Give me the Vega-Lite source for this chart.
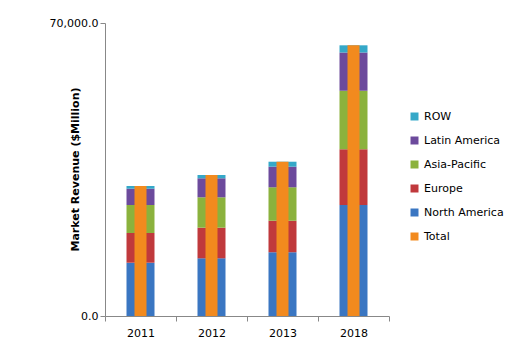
{
  "$schema": "https://vega.github.io/schema/vega-lite/v6.json",
  "width": 284,
  "height": 293,
  "padding": {"left": 105, "top": 23, "right": 134, "bottom": 41},
  "autosize": {"type": "none"},
  "background": "white",
  "config": {
    "view": {"stroke": null},
    "font": "DejaVu Sans",
    "axis": {"labelFont": "DejaVu Sans", "labelFontSize": 11, "labelColor": "#000", "domainColor": "#888", "tickColor": "#888", "grid": false},
    "legend": {"labelFont": "DejaVu Sans", "labelFontSize": 11, "labelColor": "#000"}
  },
  "data": {
    "values": [
      {"year": "2011", "region": "North America", "ord": 1, "value": 12730},
      {"year": "2011", "region": "Europe", "ord": 2, "value": 7100},
      {"year": "2011", "region": "Asia-Pacific", "ord": 3, "value": 6690},
      {"year": "2011", "region": "Latin America", "ord": 4, "value": 3890},
      {"year": "2011", "region": "ROW", "ord": 5, "value": 650},
      {"year": "2011", "region": "Total", "ord": 6, "value": 31060},
      {"year": "2012", "region": "North America", "ord": 1, "value": 13780},
      {"year": "2012", "region": "Europe", "ord": 2, "value": 7320},
      {"year": "2012", "region": "Asia-Pacific", "ord": 3, "value": 7260},
      {"year": "2012", "region": "Latin America", "ord": 4, "value": 4540},
      {"year": "2012", "region": "ROW", "ord": 5, "value": 780},
      {"year": "2012", "region": "Total", "ord": 6, "value": 33680},
      {"year": "2013", "region": "North America", "ord": 1, "value": 15220},
      {"year": "2013", "region": "Europe", "ord": 2, "value": 7550},
      {"year": "2013", "region": "Asia-Pacific", "ord": 3, "value": 7980},
      {"year": "2013", "region": "Latin America", "ord": 4, "value": 4920},
      {"year": "2013", "region": "ROW", "ord": 5, "value": 1190},
      {"year": "2013", "region": "Total", "ord": 6, "value": 36860},
      {"year": "2018", "region": "North America", "ord": 1, "value": 26520},
      {"year": "2018", "region": "Europe", "ord": 2, "value": 13300},
      {"year": "2018", "region": "Asia-Pacific", "ord": 3, "value": 14010},
      {"year": "2018", "region": "Latin America", "ord": 4, "value": 9120},
      {"year": "2018", "region": "ROW", "ord": 5, "value": 1720},
      {"year": "2018", "region": "Total", "ord": 6, "value": 64670}
    ]
  },
  "encoding": {
    "x": {
      "field": "year", "type": "ordinal",
      "scale": {"paddingInner": 0, "paddingOuter": 0},
      "axis": {"title": null, "labelAngle": 0, "tickBand": "extent", "tickSize": 5, "labelPadding": 6, "domainColor": "#888"}
    },
    "color": {
      "field": "region", "type": "nominal",
      "scale": {
        "domain": ["ROW", "Latin America", "Asia-Pacific", "Europe", "North America", "Total"],
        "range": ["#35A8C8", "#6C4A9C", "#8BB23D", "#C0393C", "#3A76C2", "#F28A1E"]
      },
      "legend": {
        "title": null, "orient": "none", "legendX": 304, "legendY": 88,
        "symbolType": "square", "symbolSize": 64, "symbolStrokeWidth": 0,
        "rowPadding": 12, "labelOffset": 4
      }
    }
  },
  "layer": [
    {
      "transform": [{"filter": "datum.region !== 'Total'"}],
      "mark": {"type": "bar", "size": 28},
      "encoding": {
        "y": {
          "field": "value", "type": "quantitative", "stack": "zero",
          "scale": {"domain": [0, 70000], "nice": false},
          "axis": {"title": "Market Revenue ($Million)", "titleFontWeight": "bold", "titleFontSize": 11, "titleFont": "DejaVu Sans", "values": [0, 70000], "format": ",.1f", "tickSize": 5, "titleX": -25, "titleY": 146, "titleAlign": "center", "titleAngle": -90}
        },
        "order": {"field": "ord", "type": "quantitative", "sort": "ascending"}
      }
    },
    {
      "transform": [{"filter": "datum.region === 'Total'"}],
      "mark": {"type": "bar", "size": 12},
      "encoding": {
        "y": {"field": "value", "type": "quantitative", "stack": null}
      }
    }
  ]
}
